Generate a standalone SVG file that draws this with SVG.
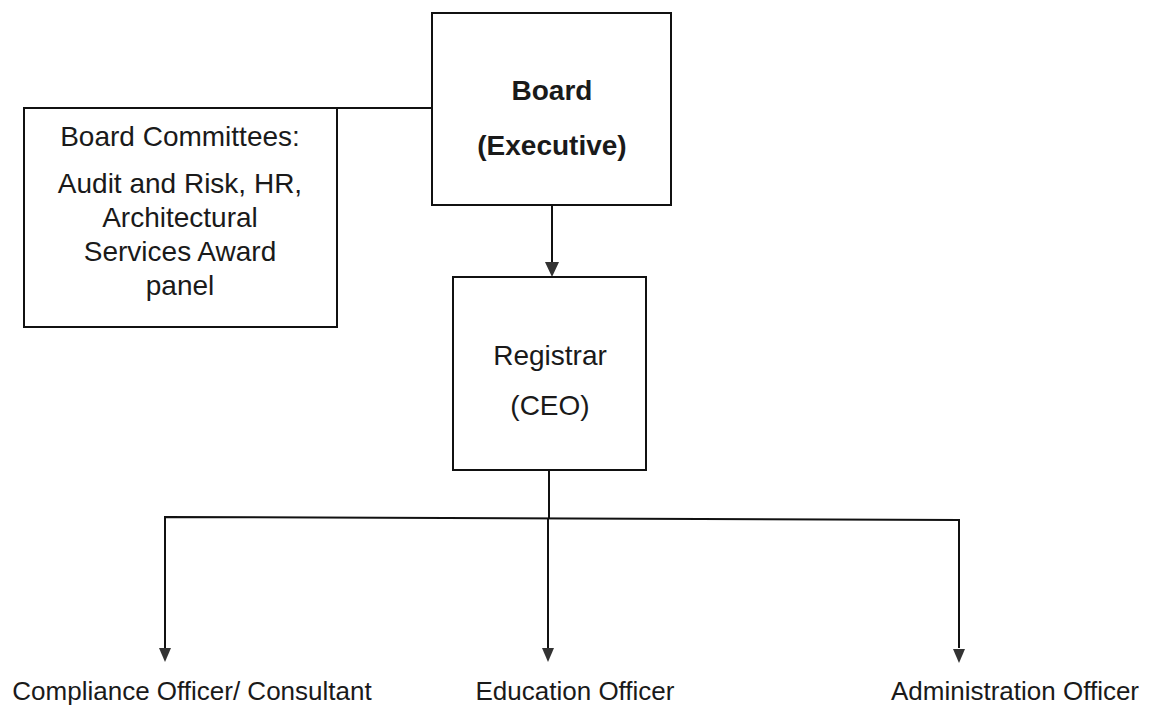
<svg xmlns="http://www.w3.org/2000/svg" width="1158" height="712" viewBox="0 0 1158 712">
<style>
.box{fill:#fff;stroke:#111;stroke-width:2}
.ln{fill:none;stroke:#111;stroke-width:2}
.t{font-family:"Liberation Sans",Arial,sans-serif;font-size:28px;fill:#1a1a1a;text-anchor:middle}
.b{font-weight:bold}
.s{font-size:26px}
</style>
<rect width="1158" height="712" fill="#fff"/>
<g id="connectors">
<line class="ln" x1="337" y1="108" x2="432" y2="108"/>
<path class="ln" d="M552,205 V262"/>
<path d="M545,262 L559,262 L552,277 Z" fill="#333"/>
<path class="ln" d="M549,470 V518"/>
<path class="ln" d="M165,648 V517 L959,520 V648"/>
<path class="ln" d="M548,518 V648"/>
<path d="M159,648 L171,648 L165,662 Z" fill="#333"/>
<path d="M542,648 L554,648 L548,662 Z" fill="#333"/>
<path d="M953,649 L965,649 L959,663 Z" fill="#333"/>
</g>
<g id="board">
<rect class="box" x="432" y="13" width="239" height="192"/>
<text class="t b" x="552" y="100">Board</text>
<text class="t b" x="552" y="155">(Executive)</text>
</g>
<g id="committees">
<rect class="box" x="24" y="108" width="313" height="219"/>
<text class="t" x="180" y="146">Board Committees:</text>
<text class="t" x="180" y="193">Audit and Risk, HR,</text>
<text class="t" x="180" y="227">Architectural</text>
<text class="t" x="180" y="261">Services Award</text>
<text class="t" x="180" y="295">panel</text>
</g>
<g id="registrar">
<rect class="box" x="453" y="277" width="193" height="193"/>
<text class="t" x="550" y="365">Registrar</text>
<text class="t" x="550" y="415">(CEO)</text>
</g>
<g id="compliance">
<text class="t s" x="192" y="700">Compliance Officer/ Consultant</text>
</g>
<g id="education">
<text class="t s" x="575" y="700">Education Officer</text>
</g>
<g id="administration">
<text class="t s" x="1015" y="700">Administration Officer</text>
</g>
</svg>
